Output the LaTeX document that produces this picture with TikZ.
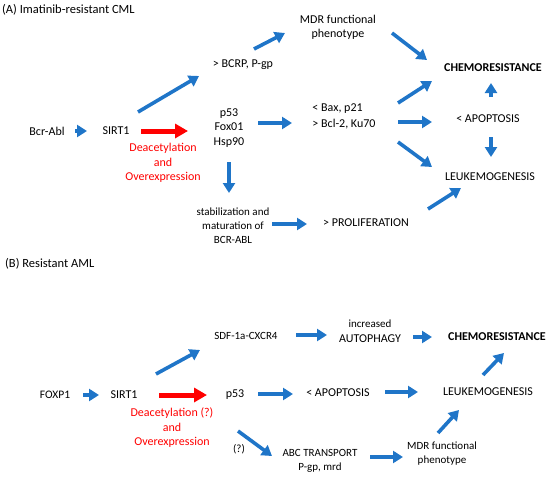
\documentclass[tikz,border=0pt]{standalone}
\usepackage{fontspec}
\setmainfont{Carlito}
\usetikzlibrary{arrows.meta}
\definecolor{ablue}{RGB}{31,117,200}
\definecolor{ared}{RGB}{255,0,0}
\tikzset{
  txt/.style={inner sep=0pt, align=center, font=\fontsize{12}{14.5}\selectfont},
  sml/.style={inner sep=0pt, align=center, font=\fontsize{11}{14}\selectfont},
  ttl/.style={inner sep=0pt, anchor=west, font=\fontsize{12.5}{15}\selectfont},
  bld/.style={inner sep=0pt, font=\fontsize{12}{14}\selectfont\bfseries},
  rtxt/.style={inner sep=0pt, align=center, text=ared, font=\fontsize{12}{14.5}\selectfont},
  barr/.style={draw=ablue, line width=3.6pt, -{Triangle[length=10pt,width=12pt]}},
  rarr/.style={draw=ared, line width=5pt, -{Triangle[length=13pt,width=14pt]}}
}
\begin{document}
\begin{tikzpicture}[x=1pt,y=-1pt]
\useasboundingbox (0,0) rectangle (550,477);
% ---------- Part A ----------
\node[ttl] (titleA) at (2,10) {(A) Imatinib-resistant CML};
\node[txt] (bcrA) at (47,131) {Bcr-Abl};
\node[txt] (sirtA) at (116,131) {SIRT1};
\node[txt] (p53A) at (229,128) {p53\\Fox01\\Hsp90};
\node[rtxt] (redA) at (163,163) {Deacetylation\\and\\Overexpression};
\node[txt] (bcrpA) at (243,65) {> BCRP, P-gp};
\node[txt] (mdrA) at (338,27.5) {MDR functional\\phenotype};
\node[txt, align=left, font=\fontsize{12}{16}\selectfont] (baxA) at (344,116) {< Bax, p21\\> Bcl-2, Ku70};
\node[bld] (chemoA) at (493,68) {CHEMORESISTANCE};
\node[txt] (apopA) at (488,119) {< APOPTOSIS};
\node[txt] (leukA) at (490,177) {LEUKEMOGENESIS};
\node[sml] (stabA) at (233,226) {stabilization and\\maturation of\\BCR-ABL};
\node[txt] (prolA) at (366,223) {> PROLIFERATION};

\draw[barr] ([shift={(28,0)}]bcrA.center) -- ([shift={(-29,0)}]sirtA.center);
\draw[rarr] ([shift={(25,0)}]sirtA.center) -- ([shift={(-41,3)}]p53A.center);
\draw[barr] ([shift={(22,-19)}]sirtA.center) -- ([shift={(-44,11)}]bcrpA.center);
\draw[barr] ([shift={(11,-16)}]bcrpA.center) -- ([shift={(-53,5.5)}]mdrA.center);
\draw[barr] ([shift={(54,5.5)}]mdrA.center) -- ([shift={(-66,-8)}]chemoA.center);
\draw[barr] ([shift={(29,-5)}]p53A.center) -- ([shift={(-52,7)}]baxA.center);
\draw[barr] ([shift={(54,-13)}]baxA.center) -- ([shift={(-61,13)}]chemoA.center);
\draw[barr] ([shift={(54,6)}]baxA.center) -- ([shift={(-56,3)}]apopA.center);
\draw[barr] ([shift={(54,26)}]baxA.center) -- ([shift={(-58,-10)}]leukA.center);
\draw[barr] ([shift={(3,-22)}]apopA.center) -- ([shift={(-2,15)}]chemoA.center);
\draw[barr] ([shift={(3,18)}]apopA.center) -- ([shift={(1,-20)}]leukA.center);
\draw[barr] ([shift={(0,34)}]p53A.center) -- ([shift={(-4,-33)}]stabA.center);
\draw[barr] ([shift={(39,-2)}]stabA.center) -- ([shift={(-59,1)}]prolA.center);
\draw[barr] ([shift={(62,-14)}]prolA.center) -- ([shift={(-29,11)}]leukA.center);

% ---------- Part B ----------
\node[ttl] (titleB) at (5,264) {(B) Resistant AML};
\node[sml, font=\fontsize{11.5}{14}\selectfont] (foxB) at (55,395) {FOXP1};
\node[txt] (sirtB) at (124,395) {SIRT1};
\node[rtxt] (redB) at (172,428) {Deacetylation (?)\\and\\Overexpression};
\node[txt] (p53B) at (235,395) {p53};
\node[sml] (sdfB) at (246,336) {SDF-1a-CXCR4};
\node[txt] (incB) at (370,331) {{\fontsize{11}{14}\selectfont increased}\\AUTOPHAGY};
\node[bld] (chemoB) at (497,337) {CHEMORESISTANCE};
\node[txt] (apopB) at (338,393) {< APOPTOSIS};
\node[txt] (leukB) at (488,392) {LEUKEMOGENESIS};
\node[sml] (qB) at (239,449) {(?)};
\node[sml] (abcB) at (320,461) {ABC TRANSPORT\\P-gp, mrd};
\node[sml] (mdrB) at (442,454) {MDR functional\\phenotype};

\draw[barr] ([shift={(28,0)}]foxB.center) -- ([shift={(-25,0)}]sirtB.center);
\draw[rarr] ([shift={(35,0)}]sirtB.center) -- ([shift={(-28,0)}]p53B.center);
\draw[barr] ([shift={(32,-21)}]sirtB.center) -- ([shift={(-46,14)}]sdfB.center);
\draw[barr] ([shift={(50,-1)}]sdfB.center) -- ([shift={(-43,4)}]incB.center);
\draw[barr] ([shift={(43,6)}]incB.center) -- ([shift={(-65,0)}]chemoB.center);
\draw[barr] ([shift={(23,-1)}]p53B.center) -- ([shift={(-45,1)}]apopB.center);
\draw[barr] ([shift={(47,-1)}]apopB.center) -- ([shift={(-70,0)}]leukB.center);
\draw[barr] ([shift={(-5,-17)}]leukB.center) -- ([shift={(7,16)}]chemoB.center);
\draw[barr] ([shift={(3,36)}]p53B.center) -- ([shift={(-48,-5)}]abcB.center);
\draw[barr] ([shift={(50,-4)}]abcB.center) -- ([shift={(-39,3)}]mdrB.center);
\draw[barr] ([shift={(-4,-21)}]mdrB.center) -- ([shift={(-29,18)}]leukB.center);
\end{tikzpicture}
\end{document}
